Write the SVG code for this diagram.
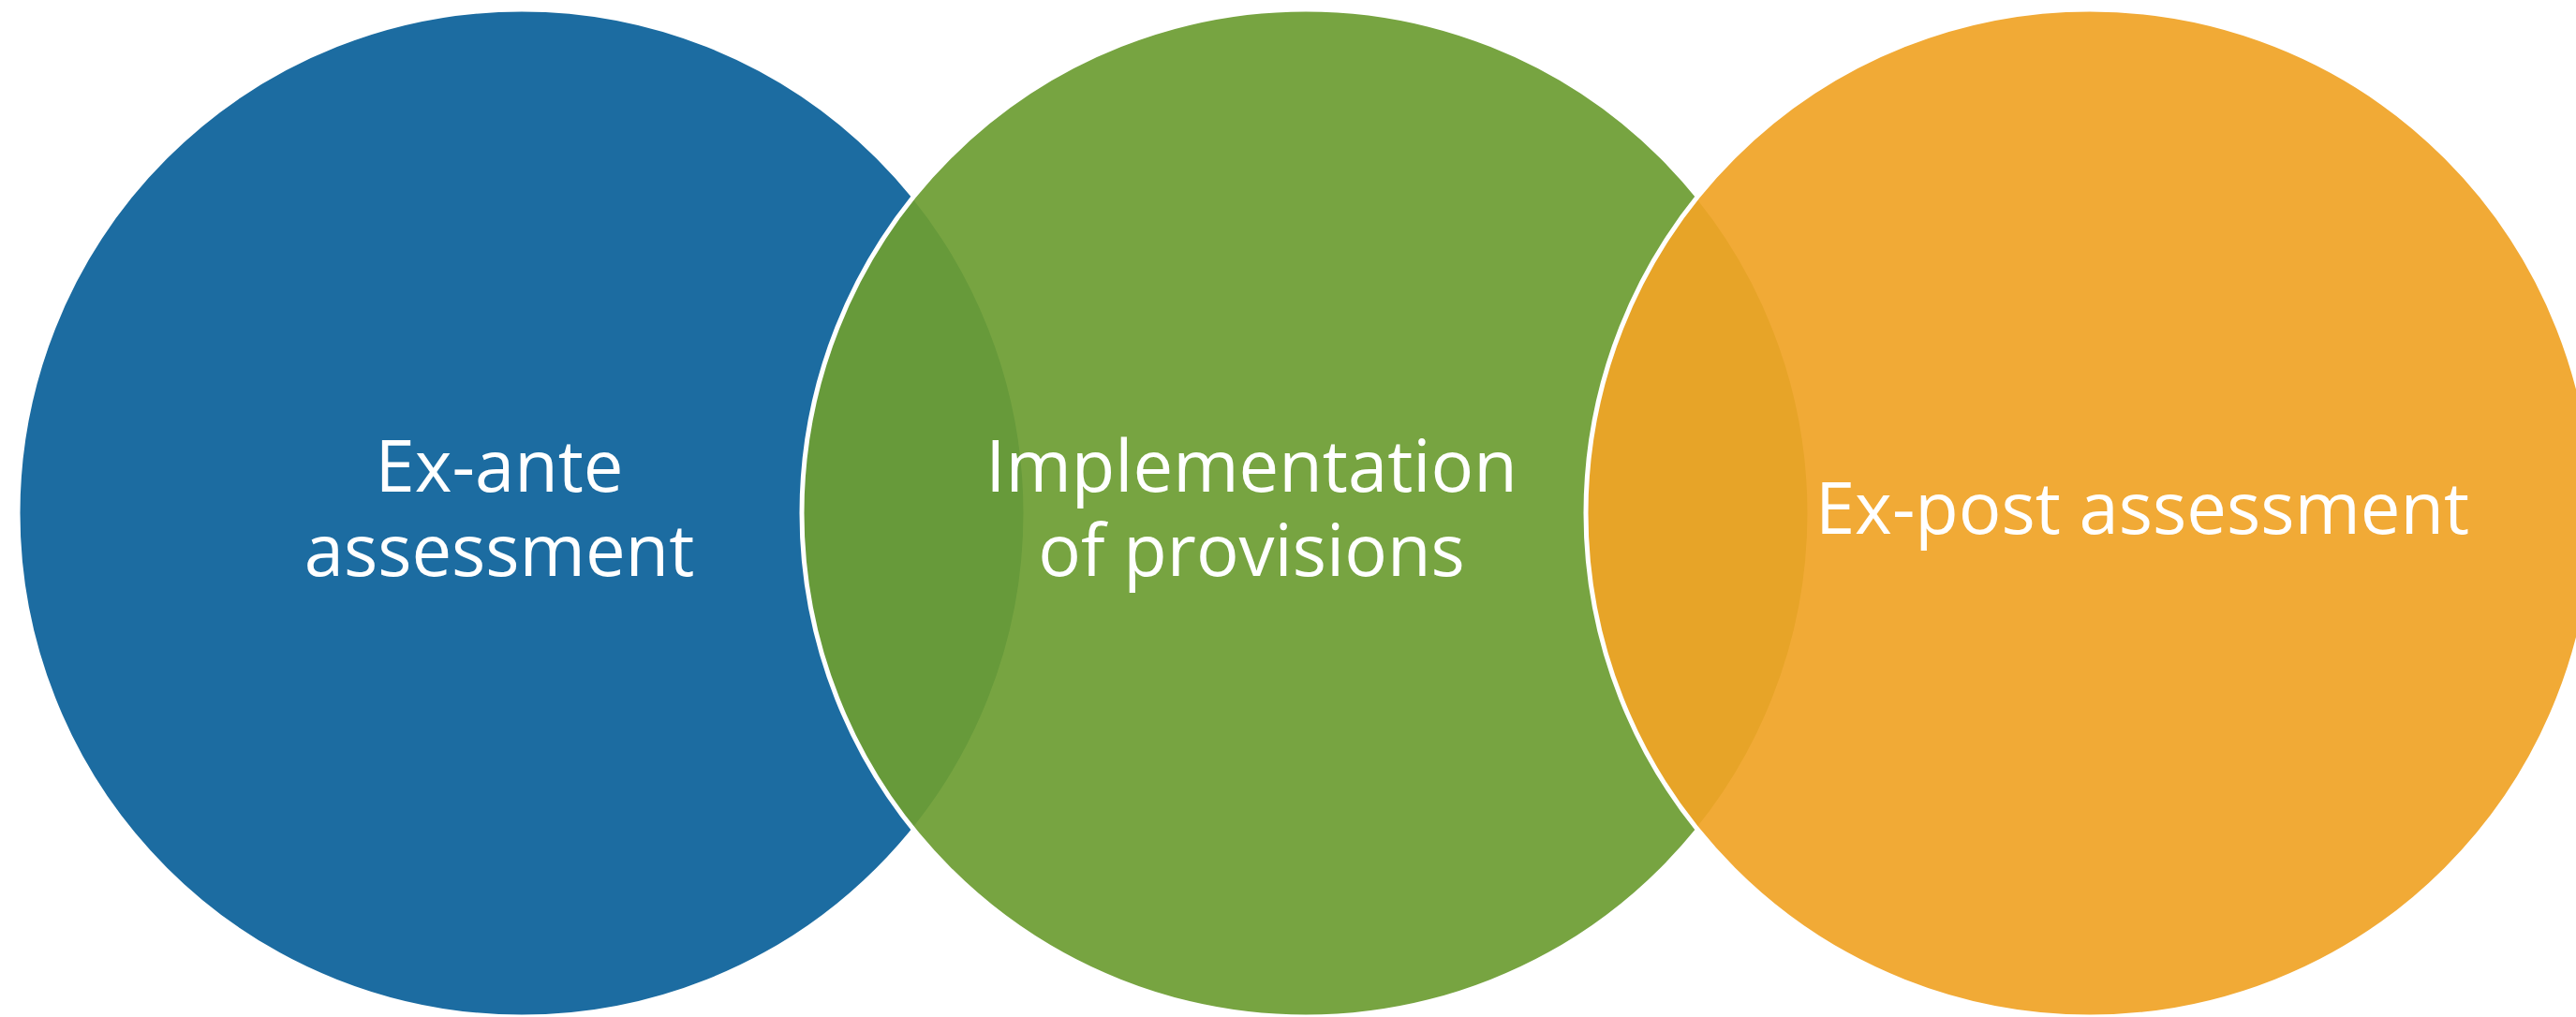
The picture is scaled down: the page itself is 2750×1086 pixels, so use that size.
<svg xmlns="http://www.w3.org/2000/svg" width="2750" height="1086" viewBox="0 0 2750 1086">
<style>
.c{stroke:#ffffff;stroke-width:5;fill-opacity:0.93}
.t{font-family:"Open Sans","Liberation Sans",sans-serif;font-size:76px;fill:#ffffff;text-anchor:middle}
</style>
<rect width="2750" height="1086" fill="#ffffff"/>
<g id="node-exante">
<circle class="c" cx="557" cy="548" r="538" fill="#0B619A"/>
<text class="t"><tspan x="533" y="525">Ex-ante</tspan><tspan x="533" y="615">assessment</tspan></text>
</g>
<g id="node-implementation">
<circle class="c" cx="1394" cy="548" r="538" fill="#6D9D33"/>
<text class="t"><tspan x="1336" y="525">Implementation</tspan><tspan x="1336" y="615">of provisions</tspan></text>
</g>
<g id="node-expost">
<circle class="c" cx="2231" cy="548" r="538" fill="#F0A427"/>
<text class="t" x="2287" y="570">Ex-post assessment</text>
</g>
<g id="connectors"/>
</svg>
